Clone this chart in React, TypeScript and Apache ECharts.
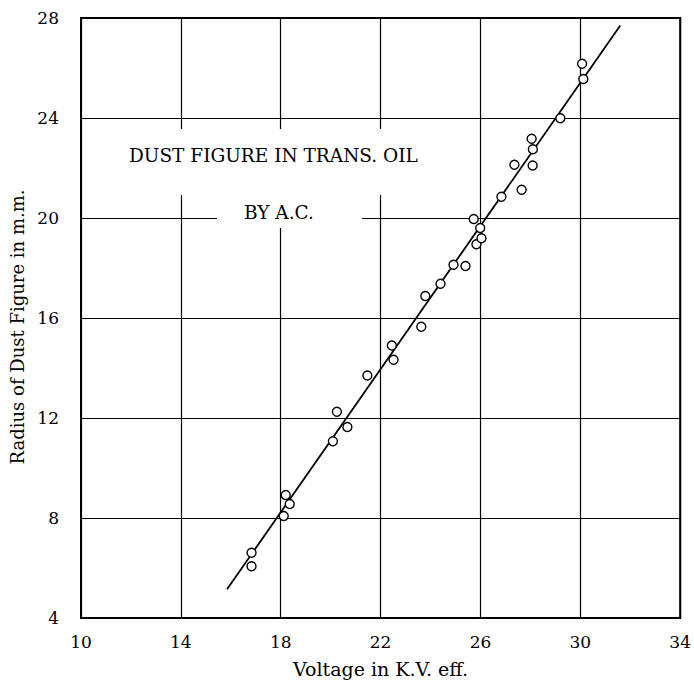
import React, { useEffect, useRef } from "react";
import * as echarts from "echarts";

const xTicks = [10, 14, 18, 22, 26, 30, 34];
const yTicks = [4, 8, 12, 16, 20, 24, 28];

const voltage = [
  16.83, 16.83, 18.12, 18.36, 18.2, 20.09, 20.25, 20.67, 21.47, 22.45, 22.52,
  23.63, 23.79, 24.4, 24.92, 25.4, 25.73, 25.84, 26.04, 25.99, 26.84, 27.65,
  27.36, 28.09, 28.1, 28.05, 29.2, 30.12, 30.07,
];
const radius = [
  6.61, 6.07, 8.08, 8.56, 8.92, 11.07, 12.25, 11.64, 13.7, 14.9, 14.33, 15.65,
  16.88, 17.37, 18.13, 18.08, 19.96, 18.95, 19.19, 19.6, 20.85, 21.13, 22.13,
  22.1, 22.75, 23.17, 23.99, 25.56, 26.17,
];

const fitLineX = [15.85, 31.6];
const fitLineY = [5.15, 27.7];

const titleLine1 = "DUST FIGURE IN TRANS. OIL";
const titleLine2 = "BY A.C.";
const xName = "Voltage in K.V. eff.";
const yName = "Radius of Dust Figure in m.m.";

const FONT = "'DejaVu Serif', serif";

export default function App() {
  const ref = useRef<HTMLDivElement>(null);
  useEffect(() => {
    document.body.style.margin = "0";
    const chart = echarts.init(ref.current!, null, { renderer: "svg" });
    const points = voltage.map((v, i) => [v, radius[i]]);
    const line = fitLineX.map((v, i) => [v, fitLineY[i]]);
    chart.setOption({
      animation: false,
      backgroundColor: "#fff",
      grid: {
        left: 81,
        top: 18,
        width: 600,
        height: 600,
        show: true,
        borderColor: "#000",
        borderWidth: 2,
        containLabel: false,
      },
      xAxis: {
        type: "value",
        min: xTicks[0],
        max: xTicks[xTicks.length - 1],
        interval: 4,
        name: xName,
        nameLocation: "middle",
        nameGap: 41,
        nameTextStyle: { fontFamily: FONT, fontSize: 19, color: "#000" },
        axisLine: { show: false },
        axisTick: { show: false },
        axisLabel: {
          fontFamily: FONT,
          fontSize: 17,
          color: "#000",
          margin: 15,
        },
        splitLine: { show: true, lineStyle: { color: "#000", width: 1.2 } },
      },
      yAxis: {
        type: "value",
        min: yTicks[0],
        max: yTicks[yTicks.length - 1],
        interval: 4,
        name: yName,
        nameLocation: "middle",
        nameGap: 44,
        nameTextStyle: {
          fontFamily: FONT,
          fontSize: 18,
          color: "#000",
          padding: [0, 18, 0, 0],
        },
        axisLine: { show: false },
        axisTick: { show: false },
        axisLabel: {
          fontFamily: FONT,
          fontSize: 17,
          color: "#000",
          margin: 22,
        },
        splitLine: { show: true, lineStyle: { color: "#000", width: 1.2 } },
      },
      graphic: {
        elements: [
          {
            type: "rect",
            z: 50,
            shape: { x: 84, y: 129, width: 346, height: 66 },
            style: { fill: "#fff" },
          },
          {
            type: "rect",
            z: 50,
            shape: { x: 217, y: 194, width: 145, height: 34 },
            style: { fill: "#fff" },
          },
          {
            type: "text",
            z: 51,
            x: 129,
            y: 155,
            style: {
              text: titleLine1,
              fontFamily: FONT,
              fontSize: 18.5,
              fill: "#000",
              verticalAlign: "middle",
              align: "left",
            },
          },
          {
            type: "text",
            z: 51,
            x: 244,
            y: 212,
            style: {
              text: titleLine2,
              fontFamily: FONT,
              fontSize: 18.5,
              fill: "#000",
              verticalAlign: "middle",
              align: "left",
            },
          },
        ],
      },
      series: [
        {
          type: "line",
          data: line,
          symbol: "none",
          lineStyle: { color: "#000", width: 1.8 },
          z: 5,
        },
        {
          type: "scatter",
          data: points,
          symbol: "circle",
          symbolSize: 9,
          itemStyle: {
            color: "#fff",
            borderColor: "#000",
            borderWidth: 1.4,
            opacity: 1,
          },
          z: 10,
        },
      ],
    });
    return () => chart.dispose();
  }, []);
  return <div ref={ref} style={{ width: 694, height: 690 }} />;
}
